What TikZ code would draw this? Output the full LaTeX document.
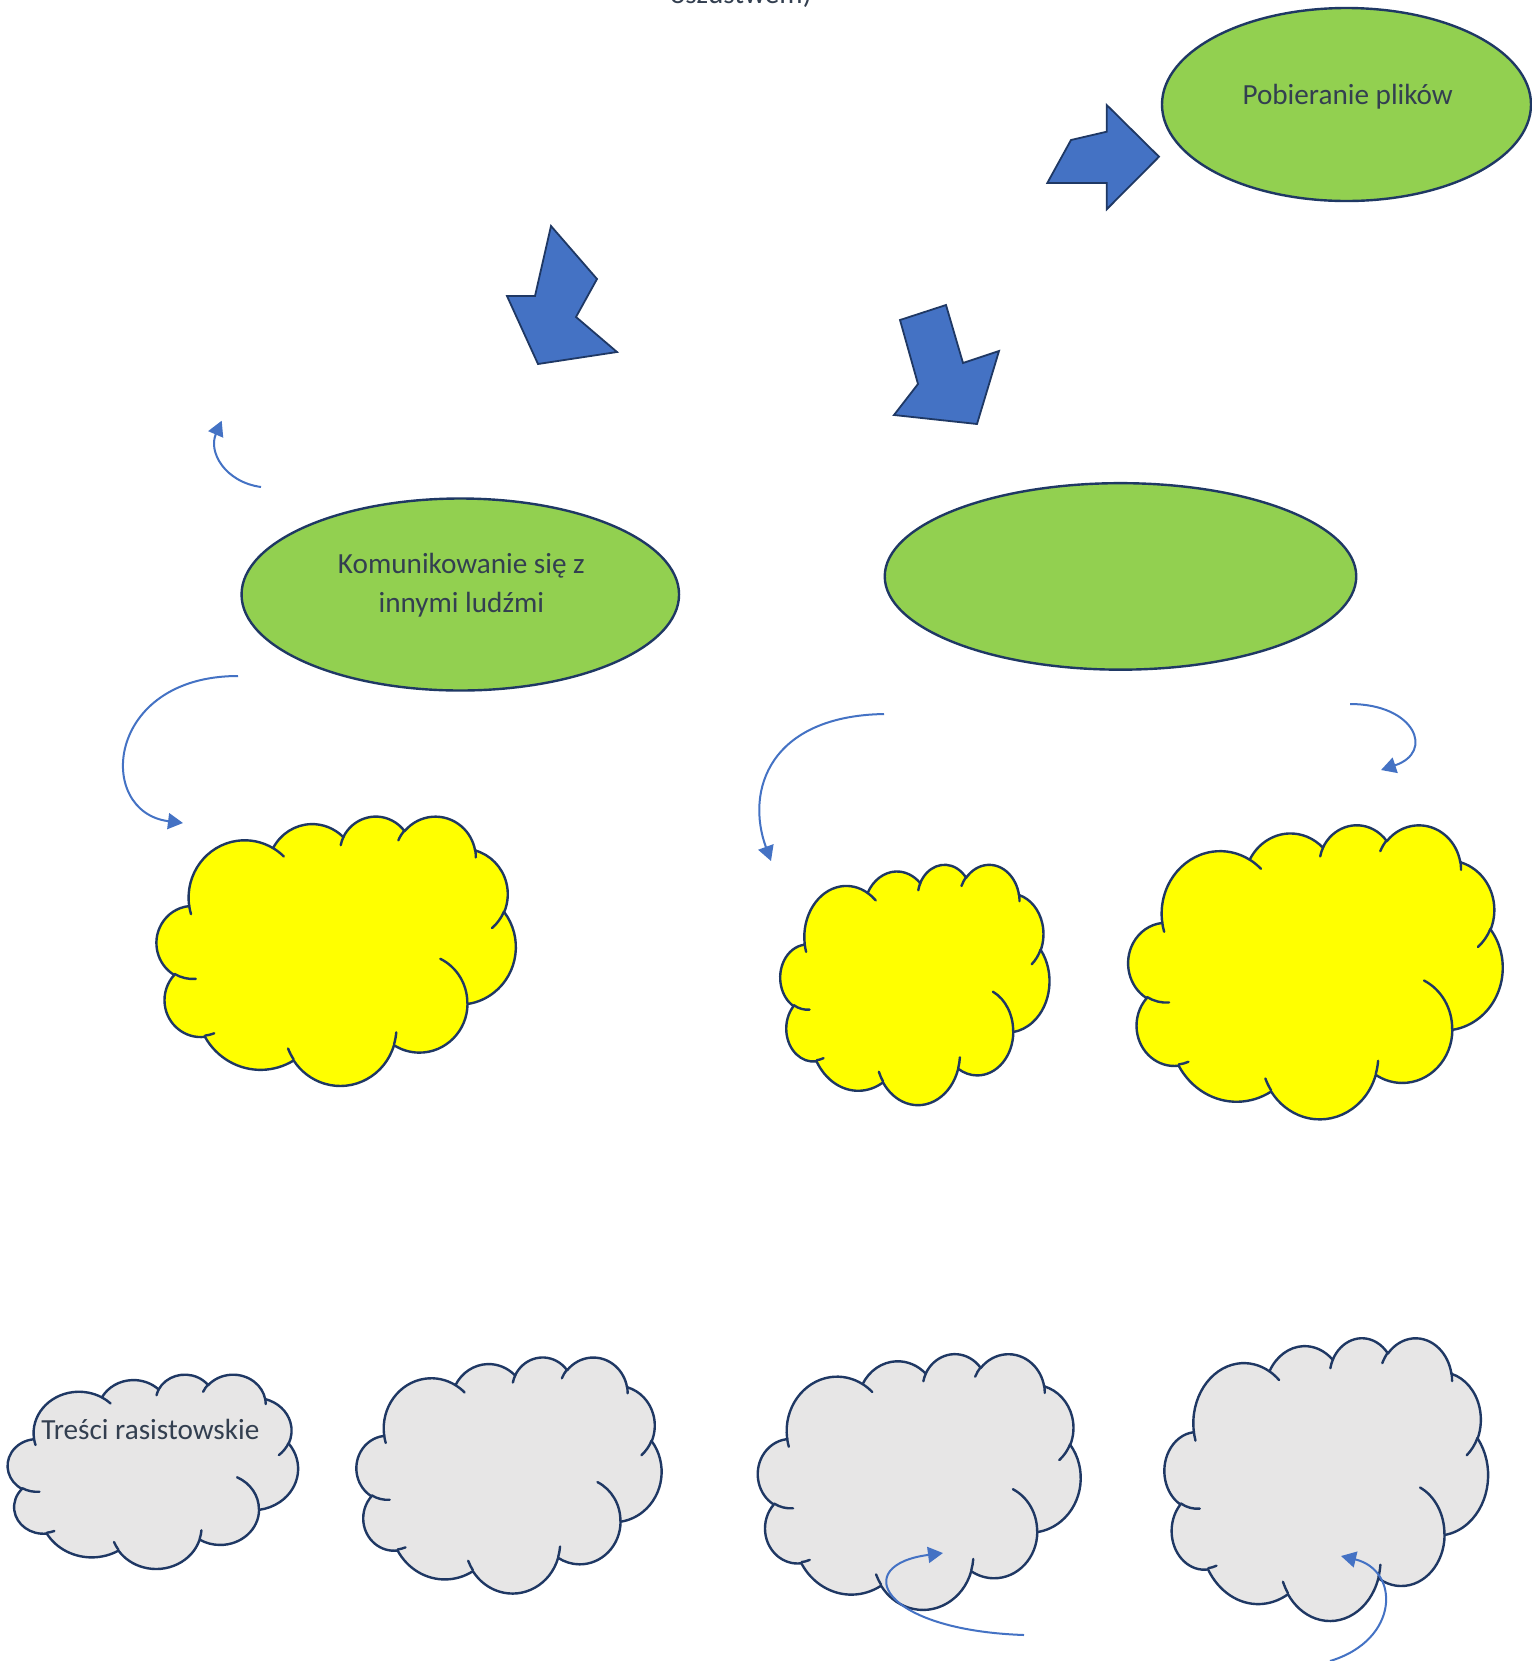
\documentclass[tikz,border=0pt]{standalone}
\usepackage{fontspec}
\setmainfont{Carlito}
\usetikzlibrary{arrows.meta,shapes.geometric}
\definecolor{lineNavy}{HTML}{1F3864}
\definecolor{arrowBlue}{HTML}{4472C4}
\definecolor{leafGreen}{HTML}{92D050}
\definecolor{cloudYellow}{HTML}{FFFF00}
\definecolor{cloudGray}{HTML}{E7E6E6}
\definecolor{textSlate}{HTML}{333F50}
\tikzset{
  oarc/.style n args={4}{%
    x radius={#1*0.5pt}, y radius={#2*0.5pt},
    start angle={(-atan2((#1)*sin(#3),(#2)*cos(#3)))},
    delta angle={(-mod(atan2((#1)*sin((#3)+(#4)),(#2)*cos((#3)+(#4)))-atan2((#1)*sin(#3),(#2)*cos(#3))+720,360))}},
  cloudedge/.style={draw=lineNavy, line width=1.2pt, line join=round, line cap=round},
  leaf/.style={ellipse, draw=lineNavy, fill=leafGreen, line width=1.2pt, inner sep=0pt},
  lbl/.style={text=textSlate, font=\fontsize{14.6pt}{17.5pt}\selectfont, inner sep=0pt},
  blockarrow/.style={fill=arrowBlue, draw=lineNavy, line width=0.9pt, line join=miter},
  conn/.style={draw=arrowBlue, line width=1pt, -{Triangle[length=7.5pt,width=8pt]}}
}
\newcommand\officecloud[5]{%
\begin{scope}[shift={(#1,#2)},xscale={#3/432},yscale={#4/432}]
\filldraw[cloudedge,fill=#5] (39.00,143.70)
 arc[oarc={67.53}{91.90}{-190.48748}{123.78053}]
 arc[oarc={53.33}{72.67}{-144.10238}{89.94523}]
 arc[oarc={43.65}{59.45}{-145.80792}{99.72302}]
 arc[oarc={48.57}{65.95}{-130.98607}{117.24173}]
 arc[oarc={53.33}{72.73}{-78.70888}{109.02692}]
 arc[oarc={67.75}{92.20}{-46.26725}{130.26900}]
 arc[oarc={57.85}{78.67}{0.62502}{114.03333}]
 arc[oarc={67.52}{92.15}{22.45160}{115.17255}]
 arc[oarc={77.20}{105.43}{66.24263}{75.71102}]
 arc[oarc={43.60}{59.18}{-274.94208}{146.73557}]
 arc[oarc={43.45}{59.45}{-246.82850}{152.51885}]
 -- cycle;
\draw[cloudedge]
 (46.93,261.77) arc[oarc={43.45}{59.45}{86.74200}{26.42950}]
 (69.28,348.99) arc[oarc={43.60}{59.18}{73.61047}{11.44747}]
 (164.78,390.90) arc[oarc={67.52}{92.15}{137.62415}{14.08110}]
 (288.27,347.51) arc[oarc={67.52}{92.15}{6.45327}{15.99835}]
 (341.29,229.54) arc[oarc={57.85}{78.67}{-70.29235}{70.91737}]
 (417.98,153.54) arc[oarc={53.33}{72.73}{30.31803}{27.75150}]
 (383.24,54.26) arc[oarc={48.57}{65.95}{-13.74433}{14.85890}]
 (290.78,39.52) arc[oarc={48.57}{65.95}{-149.18145}{18.19537}]
 (221.41,47.20) arc[oarc={43.65}{59.45}{-163.49427}{17.68635}]
 (140.00,51.92) arc[oarc={67.53}{91.90}{-66.70695}{12.31935}]
 (41.27,157.89) arc[oarc={67.53}{91.90}{157.65435}{11.85817}];
\end{scope}}
\begin{document}
\begin{tikzpicture}[x=0.5pt,y=-0.5pt]
\useasboundingbox (0,0) rectangle (1532,1661);
\fill[white] (0,0) rectangle (1532,1661);

% partially visible caption at the top edge
\node[lbl, anchor=base east] (toptxt) at (812,3) {oszustwem)};

% block arrows
\draw[blockarrow] (1047.3,183) -- (1071,140) -- (1106.7,131.7) -- (1106.7,105)
  -- (1159,156.7) -- (1106.7,209.3) -- (1106.7,183) -- cycle;
\draw[blockarrow] (551,226) -- (597,279) -- (576,317) -- (617,352)
  -- (538,364) -- (507,296) -- (535,296) -- cycle;
\draw[blockarrow] (900,320) -- (946,305) -- (963,363) -- (999,351)
  -- (977,424) -- (894,415) -- (918,384) -- cycle;

% ellipses
\node[leaf, minimum width=184.5pt, minimum height=96.5pt] (pob) at (1346.5,104.5) {};
\node[lbl, anchor=base] (pobt) at (1347.7,104) {Pobieranie plików};
\node[leaf, minimum width=218.75pt, minimum height=96pt] (kom) at (460.3,594.5) {};
\node[lbl, anchor=base] (kom1) at (461.4,573.5) {Komunikowanie się z};
\node[lbl, anchor=base] (kom2) at (461.4,612.5) {innymi ludźmi};
\node[leaf, minimum width=235.75pt, minimum height=93.25pt] (empty) at (1120.5,576.4) {};

% yellow clouds
\officecloud{156.7}{815.7}{359}{269.3}{cloudYellow}
\officecloud{780.4}{864}{269}{240.3}{cloudYellow}
\officecloud{1128.4}{824.3}{374.2}{294}{cloudYellow}

% gray clouds
\officecloud{7.8}{1374}{290.2}{194.3}{cloudGray}
\officecloud{356.6}{1356.7}{304.9}{236}{cloudGray}
\officecloud{758}{1353.3}{322.6}{255.7}{cloudGray}
\officecloud{1164.6}{1337.3}{323.4}{282.7}{cloudGray}
\node[lbl, anchor=base west] (tresci) at (41,1439.5) {Treści rasistowskie};

% connectors
\coordinate (a0) at (261,487);   \coordinate (a1) at (221.7,420.7);
\coordinate (b0) at (238,676);   \coordinate (b1) at (183,823);
\coordinate (c0) at (884,714);   \coordinate (c1) at (771,861);
\coordinate (d0) at (1350,704);  \coordinate (d1) at (1381,770);
\coordinate (e0) at (1024,1635); \coordinate (e1) at (943,1553);
\coordinate (f0) at (1330,1661); \coordinate (f1) at (1341,1556);
\draw[conn] (a0) .. controls (225,482) and (208,452) .. (a1);
\draw[conn] (b0) .. controls (105,676) and (95,812) .. (b1);
\draw[conn] (c0) .. controls (770,716) and (745,790) .. (c1);
\draw[conn] (d0) .. controls (1415,704) and (1435,752) .. (d1);
\draw[conn] (e0) .. controls (880,1630) and (850,1565) .. (e1);
\draw[conn] (f0) .. controls (1400,1640) and (1400,1570) .. (f1);
\end{tikzpicture}
\end{document}
